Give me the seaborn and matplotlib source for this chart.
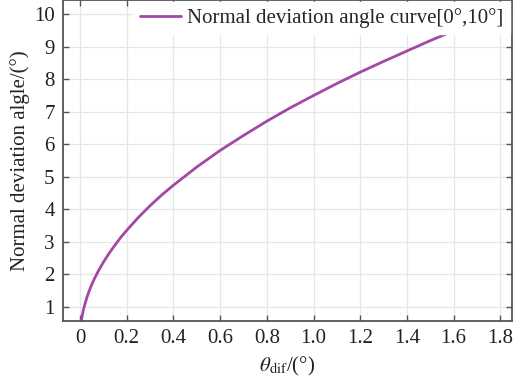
"""Curva del ángulo de desviación normal."""

import matplotlib
matplotlib.use("Agg")
import matplotlib.pyplot as plt
import pandas as pd
import seaborn as sns

# Valores
theta_dif = [0.0054, 0.008, 0.012, 0.016, 0.02, 0.03, 0.04, 0.05, 0.06, 0.08,
             0.10, 0.125, 0.15, 0.175, 0.20, 0.25, 0.30, 0.35, 0.40, 0.50,
             0.60, 0.70, 0.80, 0.90, 1.00, 1.10, 1.20, 1.30, 1.40, 1.50,
             1.60, 1.70, 1.80, 1.86]
deviation = [0.55, 0.67, 0.82, 0.95, 1.06, 1.30, 1.50, 1.68, 1.84, 2.12,
             2.37, 2.65, 2.90, 3.14, 3.35, 3.75, 4.11, 4.44, 4.74, 5.30,
             5.81, 6.27, 6.71, 7.12, 7.50, 7.87, 8.22, 8.55, 8.87, 9.19,
             9.49, 9.78, 10.06, 10.23]
x_ticks = [0, 0.2, 0.4, 0.6, 0.8, 1.0, 1.2, 1.4, 1.6, 1.8]
x_tick_labels = ["0", "0.2", "0.4", "0.6", "0.8", "1.0", "1.2", "1.4", "1.6", "1.8"]
y_ticks = [1, 2, 3, 4, 5, 6, 7, 8, 9, 10]

df = pd.DataFrame({"theta": theta_dif, "dev": deviation})

sns.set_theme(style="whitegrid")
plt.rcParams["font.family"] = ["Liberation Serif", "DejaVu Serif"]
plt.rcParams["mathtext.fontset"] = "stix"

fig = plt.figure(figsize=(5.13, 3.91), dpi=100)
ax = fig.add_axes([63 / 513, 70 / 391, 449 / 513, 321 / 391])

sns.lineplot(data=df, x="theta", y="dev", ax=ax, color="#a448a4", linewidth=2.0,
             label="Normal deviation angle curve[0°,10°]")

ax.set_xlim(-0.073, 1.85)
ax.set_ylim(0.56, 10.44)
ax.set_xticks(x_ticks)
ax.set_xticklabels(x_tick_labels)
ax.set_yticks(y_ticks)
ax.grid(True, color="#e4e7ea", linewidth=0.9)
for side in ["left", "bottom", "top", "right"]:
    ax.spines[side].set_color("#555555")
    ax.spines[side].set_linewidth(1.3)
ax.tick_params(axis="both", direction="in", length=4, width=1, color="#555555",
               labelsize=15, labelcolor="#222222", top=True, right=True,
               bottom=True, left=True, pad=6)
ax.set_xlabel(r"$\theta_{\rm dif}$/(°)", fontsize=15, color="#222222", labelpad=5)
ax.set_ylabel("Normal deviation algle/(°)", fontsize=15, color="#222222", labelpad=3)

leg = ax.legend(loc="upper right", fontsize=15, frameon=True, fancybox=False,
                borderaxespad=0.1, handlelength=2.0, handletextpad=0.3,
                borderpad=0.3)
leg.get_frame().set_edgecolor("white")
leg.get_frame().set_facecolor("white")
leg.get_frame().set_alpha(1)

fig.savefig("out.png", dpi=100)
plt.close(fig)
